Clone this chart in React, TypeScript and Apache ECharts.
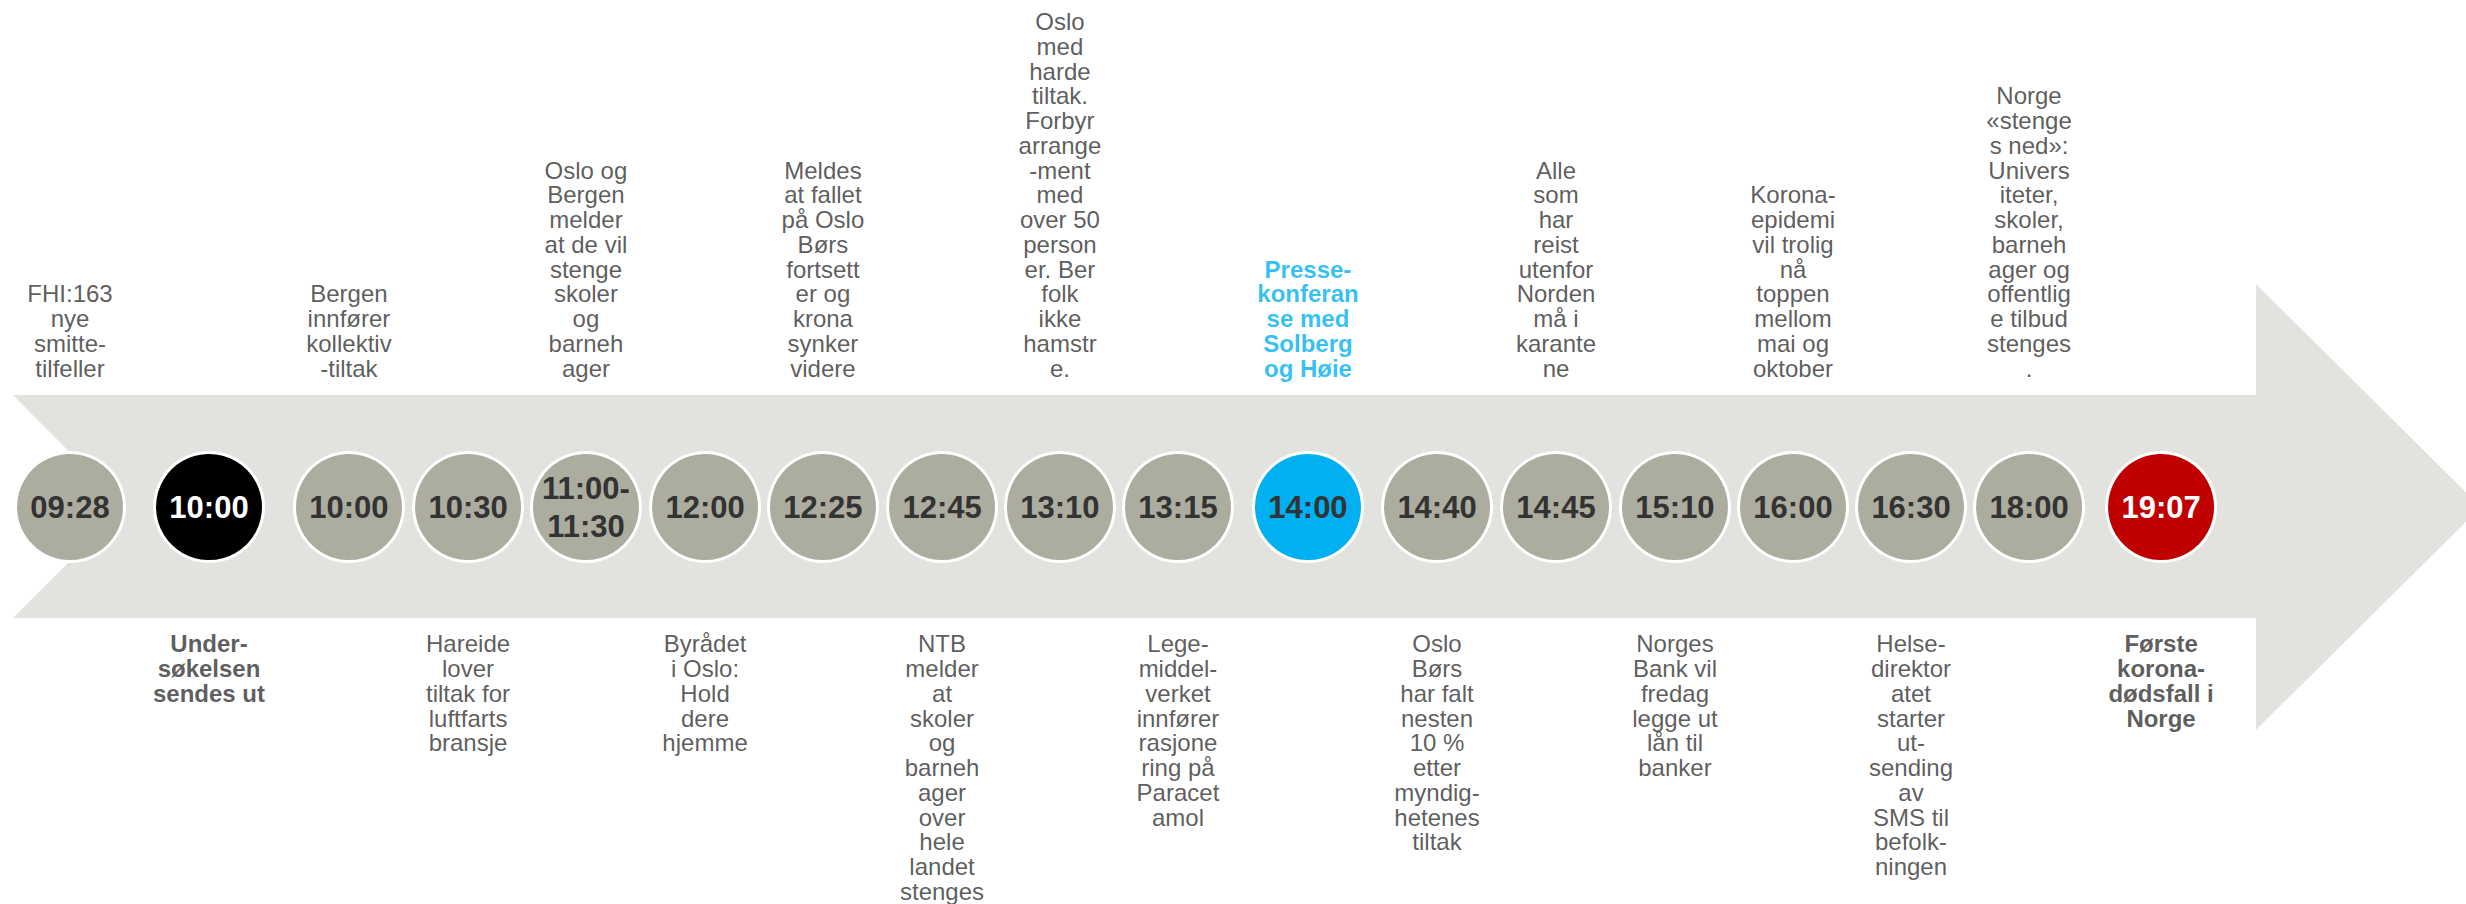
import React, { useEffect, useRef } from "react";
import * as echarts from "echarts";

// Timeline events (left to right)
const times = [
  "09:28", "10:00", "10:00", "10:30", "11:00-\n11:30", "12:00", "12:25", "12:45", "13:10",
  "13:15", "14:00", "14:40", "14:45", "15:10", "16:00", "16:30", "18:00", "19:07",
];
// Position of each event along the timeline axis (one unit = one regular step)
const slots = [
  0, 1.173, 2.354, 3.359, 4.354, 5.359, 6.354, 7.359, 8.354,
  9.35, 10.447, 11.536, 12.54, 13.544, 14.54, 15.536, 16.532, 17.646,
];
// Highlight kind of each event
const kinds = [
  "gray", "black", "gray", "gray", "gray", "gray", "gray", "gray", "gray",
  "gray", "blue", "gray", "gray", "gray", "gray", "gray", "gray", "red",
];
// Notes above the arrow
const topNotes = [
  "FHI:163\nnye\nsmitte-\ntilfeller",
  "",
  "Bergen\ninnfører\nkollektiv\n-tiltak",
  "",
  "Oslo og\nBergen\nmelder\nat de vil\nstenge\nskoler\nog\nbarneh\nager",
  "",
  "Meldes\nat fallet\npå Oslo\nBørs\nfortsett\ner og\nkrona\nsynker\nvidere",
  "",
  "Oslo\nmed\nharde\ntiltak.\nForbyr\narrange\n-ment\nmed\nover 50\nperson\ner. Ber\nfolk\nikke\nhamstr\ne.",
  "",
  "Presse-\nkonferan\nse med\nSolberg\nog Høie",
  "",
  "Alle\nsom\nhar\nreist\nutenfor\nNorden\nmå i\nkarante\nne",
  "",
  "Korona-\nepidemi\nvil trolig\nnå\ntoppen\nmellom\nmai og\noktober",
  "",
  "Norge\n«stenge\ns ned»:\nUnivers\niteter,\nskoler,\nbarneh\nager og\noffentlig\ne tilbud\nstenges\n.",
  "",
];
// Notes below the arrow
const bottomNotes = [
  "",
  "Under-\nsøkelsen\nsendes ut",
  "",
  "Hareide\nlover\ntiltak for\nluftfarts\nbransje",
  "",
  "Byrådet\ni Oslo:\nHold\ndere\nhjemme",
  "",
  "NTB\nmelder\nat\nskoler\nog\nbarneh\nager\nover\nhele\nlandet\nstenges",
  "",
  "Lege-\nmiddel-\nverket\ninnfører\nrasjone\nring på\nParacet\namol",
  "",
  "Oslo\nBørs\nhar falt\nnesten\n10 %\netter\nmyndig-\nhetenes\ntiltak",
  "",
  "Norges\nBank vil\nfredag\nlegge ut\nlån til\nbanker",
  "",
  "Helse-\ndirektor\natet\nstarter\nut-\nsending\nav\nSMS til\nbefolk-\nningen",
  "",
  "Første\nkorona-\ndødsfall i\nNorge",
];

const FONT = '"Liberation Sans", Arial, Helvetica, sans-serif';
const TEXT = "#333333";
const fills: Record<string, string> = {
  gray: "#ADAD9F",
  black: "#000000",
  blue: "#00B0F0",
  red: "#C00000",
};
const circleText: Record<string, string> = {
  gray: "#333333",
  black: "#FFFFFF",
  blue: "#333333",
  red: "#FFFFFF",
};

export default function App() {
  const ref = useRef<HTMLDivElement>(null);
  useEffect(() => {
    if (!ref.current) return;
    const chart = echarts.init(ref.current, undefined, { renderer: "svg" });

    const circles = times.map((t, i) => ({
      value: [slots[i], 0],
      itemStyle: { color: fills[kinds[i]] },
      label: { color: circleText[kinds[i]] },
    }));
    const noteData = (notes: string[]) =>
      notes
        .map((n, i) => ({
          value: [slots[i], 0],
          name: n,
          label: {
            color: kinds[i] === "blue" ? "#00B0F0" : TEXT,
            fontWeight: kinds[i] === "gray" ? "normal" : "bold",
          },
        }))
        .filter((d) => d.name !== "");

    chart.setOption({
      animation: false,
      backgroundColor: "#FFFFFF",
      grid: { left: 70, top: 110, width: 2370, bottom: 0 },
      xAxis: { type: "value", min: 0, max: 20, show: false },
      yAxis: { type: "value", min: -1, max: 1, show: false },
      graphic: [
        {
          type: "polygon",
          z: -10,
          silent: true,
          shape: {
            points: [
              [13, 395], [2256, 395], [2256, 284], [2481, 507], [2256, 730],
              [2256, 618], [13, 618], [124, 507],
            ],
          },
          style: { fill: "#E2E3DF" },
        },
      ],
      series: [
        {
          type: "scatter",
          name: "events",
          symbol: "circle",
          symbolSize: 109,
          clip: false,
          itemStyle: { borderColor: "#FFFFFF", borderWidth: 3, opacity: 1 },
          label: {
            show: true,
            position: "inside",
            formatter: (p: any) => times[p.dataIndex],
            fontFamily: FONT,
            fontWeight: "bold",
            fontSize: 31,
            lineHeight: 38,
          },
          data: circles,
        },
        {
          type: "scatter",
          name: "top",
          symbolSize: 1,
          clip: false,
          itemStyle: { color: "transparent" },
          label: {
            show: true,
            position: "top",
            distance: 126,
            align: "center",
            formatter: "{b}",
            fontFamily: FONT,
            fontSize: 24,
            lineHeight: 24.75,
          },
          data: noteData(topNotes),
        },
        {
          type: "scatter",
          name: "bottom",
          symbolSize: 1,
          clip: false,
          itemStyle: { color: "transparent" },
          label: {
            show: true,
            position: "bottom",
            distance: 124,
            align: "center",
            formatter: "{b}",
            fontFamily: FONT,
            fontSize: 24,
            lineHeight: 24.75,
          },
          data: noteData(bottomNotes),
        },
      ],
    });
    return () => chart.dispose();
  }, []);
  return (
    <div
      ref={ref}
      style={{ position: "absolute", left: 0, top: 0, width: 2466, height: 904 }}
    />
  );
}
